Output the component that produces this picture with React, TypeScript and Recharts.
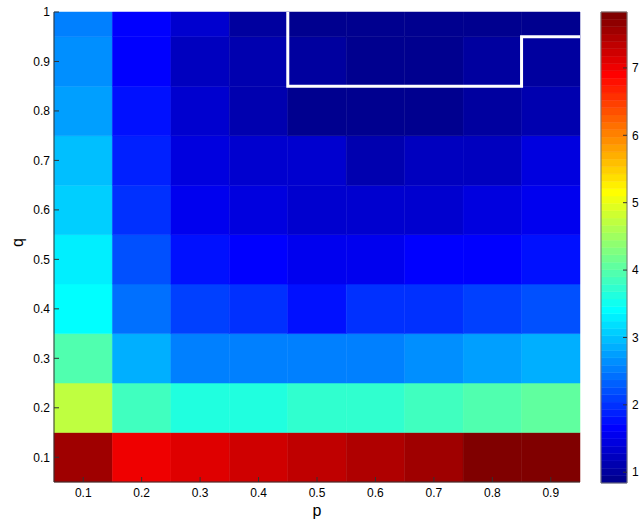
import React from 'react';
import { ScatterChart, Scatter, XAxis, YAxis, ReferenceArea, Label } from 'recharts';

// grid coordinates
const pValues = [0.1, 0.2, 0.3, 0.4, 0.5, 0.6, 0.7, 0.8, 0.9];
const qValues = [0.1, 0.2, 0.3, 0.4, 0.5, 0.6, 0.7, 0.8, 0.9, 1.0];

// one row per q (bottom to top), one value per p
const rowQ010 = [7.57, 7.0, 7.12, 7.23, 7.34, 7.45, 7.56, 7.78, 7.8];
const rowQ020 = [4.72, 3.84, 3.62, 3.62, 3.73, 3.73, 3.84, 3.95, 4.1];
const rowQ030 = [3.95, 2.86, 2.53, 2.53, 2.53, 2.53, 2.64, 2.75, 2.9];
const rowQ040 = [3.46, 2.42, 2.09, 1.98, 1.77, 1.98, 1.98, 2.09, 2.2];
const rowQ050 = [3.27, 2.25, 1.77, 1.66, 1.55, 1.55, 1.66, 1.66, 1.75];
const rowQ060 = [3.08, 1.98, 1.55, 1.44, 1.33, 1.33, 1.3, 1.44, 1.55];
const rowQ070 = [2.97, 1.9, 1.44, 1.3, 1.3, 1.11, 1.25, 1.25, 1.4];
const rowQ080 = [2.8, 1.77, 1.38, 1.11, 0.9, 0.9, 0.9, 1.05, 1.08];
const rowQ090 = [2.6, 1.66, 1.22, 1.11, 1.0, 0.9, 0.9, 0.98, 1.0];
const rowQ100 = [2.5, 1.66, 1.28, 1.02, 0.9, 0.9, 0.9, 0.9, 0.9];
const rows = [rowQ010, rowQ020, rowQ030, rowQ040, rowQ050, rowQ060, rowQ070, rowQ080, rowQ090, rowQ100];

// white region boundary
const boundaryP = [0.45, 0.45, 0.85, 0.85, 0.95];
const boundaryQ = [1.0, 0.85, 0.85, 0.95, 0.95];

const colorTicks = [1, 2, 3, 4, 5, 6, 7];
const cMin = 0.84;
const cMax = 7.83;
const LEVELS = 64;

// MATLAB style jet(64)
function jet(i: number) {
  const n = Math.ceil(LEVELS / 4);
  const u: number[] = [];
  for (let k = 1; k <= n; k++) u.push(k / n);
  for (let k = 1; k < n; k++) u.push(1);
  for (let k = n; k >= 1; k--) u.push(k / n);
  const g0 = Math.ceil(n / 2) - (LEVELS % 4 === 1 ? 1 : 0);
  const pick = (offset: number) => {
    const k = i + 1 - g0 - offset; // 1-based position in u
    return k >= 1 && k <= u.length ? u[k - 1] : 0;
  };
  const r = pick(n);
  const g = pick(0);
  const b = pick(-n);
  const h = (x: number) => Math.round(x * 255);
  return `rgb(${h(r)},${h(g)},${h(b)})`;
}

function colorFor(v: number) {
  let idx = Math.floor(((v - cMin) / (cMax - cMin)) * LEVELS);
  idx = Math.max(0, Math.min(LEVELS - 1, idx));
  return jet(idx);
}

const round2 = (x: number) => Math.round(x * 100) / 100;

const cells = qValues.flatMap((q, i) =>
  pValues.map((p, j) => ({ p, q, v: rows[i][j] }))
);
const boundary = boundaryP.map((p, i) => ({ p, q: boundaryQ[i] }));

const bands = Array.from({ length: LEVELS }, (_, i) => ({
  lo: cMin + (i * (cMax - cMin)) / LEVELS,
  hi: cMin + ((i + 1) * (cMax - cMin)) / LEVELS,
  color: jet(i),
}));

const font = "'Liberation Sans', Arial, sans-serif";
const axisColor = '#333';
const tickStyle = { fill: '#000', fontSize: 12, fontFamily: font };

export default function App() {
  return (
    <div style={{ position: 'absolute', left: 0, top: 0, width: 639, height: 528, fontFamily: font }}>
      <div style={{ position: 'absolute', left: 0, top: 0 }}>
        <ScatterChart width={600} height={528} margin={{ top: 12, right: 20, bottom: 0, left: 0 }}>
          <XAxis
            type="number"
            dataKey="p"
            domain={[0.05, 0.95]}
            ticks={pValues}
            allowDataOverflow
            height={46}
            tickSize={-5}
            tickMargin={11}
            axisLine={{ stroke: axisColor }}
            tickLine={{ stroke: axisColor }}
            tick={tickStyle}
          >
            <Label value="p" position="insideBottom" offset={12} style={{ fontSize: 16, fill: '#000', fontFamily: font }} />
          </XAxis>
          <XAxis
            xAxisId="top"
            orientation="top"
            type="number"
            dataKey="p"
            domain={[0.05, 0.95]}
            ticks={pValues}
            allowDataOverflow
            height={0}
            tickSize={-5}
            tick={false}
            axisLine={{ stroke: axisColor }}
            tickLine={{ stroke: axisColor }}
          />
          <YAxis
            type="number"
            dataKey="q"
            domain={[0.05, 1]}
            ticks={qValues}
            allowDataOverflow
            width={54}
            tickSize={-5}
            tickMargin={9}
            axisLine={{ stroke: axisColor }}
            tickLine={{ stroke: axisColor }}
            tick={tickStyle}
          >
            <Label
              value="q"
              angle={-90}
              position="insideLeft"
              offset={17}
              style={{ fontSize: 16, fill: '#000', fontFamily: font }}
            />
          </YAxis>
          <YAxis
            yAxisId="right"
            orientation="right"
            type="number"
            dataKey="q"
            domain={[0.05, 1]}
            ticks={qValues}
            allowDataOverflow
            width={0}
            tickSize={-5}
            tick={false}
            axisLine={{ stroke: axisColor }}
            tickLine={{ stroke: axisColor }}
          />
          {cells.map((c) => {
            const col = colorFor(c.v);
            return (
              <ReferenceArea
                key={`${c.p}-${c.q}`}
                x1={round2(c.p - 0.05)}
                x2={round2(c.p + 0.05)}
                y1={round2(c.q - 0.05)}
                y2={Math.min(round2(c.q + 0.05), 1)}
                ifOverflow="visible"
                fill={col}
                fillOpacity={1}
                stroke={col}
                strokeWidth={0.5}
              />
            );
          })}
          <Scatter
            data={boundary}
            line={{ stroke: '#fff', strokeWidth: 3 }}
            lineType="joint"
            shape={() => <g />}
            isAnimationActive={false}
          />
        </ScatterChart>
      </div>
      <div style={{ position: 'absolute', left: 590, top: 0 }}>
        <ScatterChart width={49} height={528} margin={{ top: 12, right: 0, bottom: 45, left: 11 }}>
          <XAxis
            type="number"
            dataKey="x"
            domain={[0, 1]}
            height={0}
            tick={false}
            tickLine={false}
            axisLine={false}
          />
          <YAxis
            orientation="right"
            type="number"
            dataKey="y"
            domain={[cMin, cMax]}
            ticks={colorTicks}
            allowDataOverflow
            width={12}
            tickSize={-4}
            tickMargin={9}
            axisLine={false}
            tickLine={{ stroke: axisColor }}
            tick={tickStyle}
          />
          <YAxis
            yAxisId="left"
            orientation="left"
            type="number"
            dataKey="y"
            domain={[cMin, cMax]}
            ticks={colorTicks}
            allowDataOverflow
            width={0}
            tickSize={-4}
            tick={false}
            axisLine={false}
            tickLine={{ stroke: axisColor }}
          />
          {bands.map((b, i) => (
            <ReferenceArea
              key={i}
              x1={0}
              x2={1}
              y1={b.lo}
              y2={b.hi}
              ifOverflow="visible"
              fill={b.color}
              fillOpacity={1}
              stroke={b.color}
              strokeWidth={0.5}
            />
          ))}
          <ReferenceArea x1={0} x2={1} y1={cMin} y2={cMax} ifOverflow="visible" fill="none" stroke="#777" strokeWidth={1} />
          <Scatter data={[{ x: 0.5, y: cMin }]} shape={() => <g />} isAnimationActive={false} />
        </ScatterChart>
      </div>
    </div>
  );
}
